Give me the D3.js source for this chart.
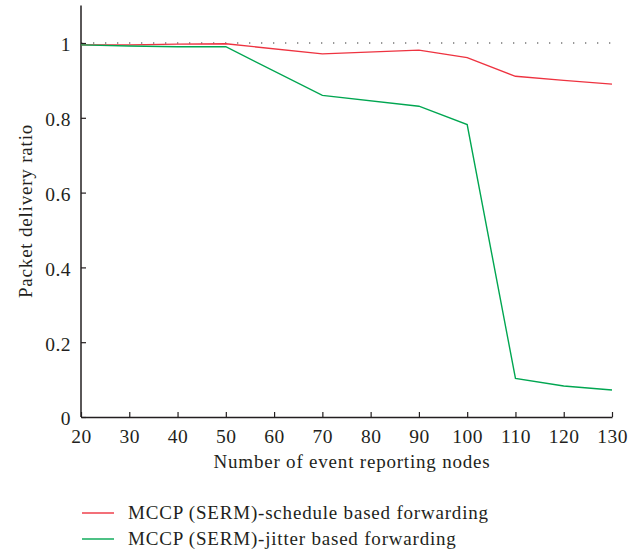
<!DOCTYPE html>
<html>
<head>
<meta charset="utf-8">
<script src="https://cdn.jsdelivr.net/npm/d3@7"></script>
<style>
body { margin: 0; background: #fff; }
text { font-family: "Liberation Serif", "DejaVu Serif", serif; fill: #231f20; }
.title { font-size: 19px; letter-spacing: 0.8px; }
</style>
</head>
<body>
<div id="chart"></div>
<script>
var nodes = [20, 30, 40, 50, 70, 90, 100, 110, 120, 130];
var scheduleRatio = [0.995, 0.995, 0.997, 0.998, 0.971, 0.981, 0.961, 0.911, 0.900, 0.890];
var jitterRatio = [0.995, 0.992, 0.990, 0.990, 0.860, 0.831, 0.782, 0.103, 0.083, 0.072];
var xTicks = [20, 30, 40, 50, 60, 70, 80, 90, 100, 110, 120, 130];
var yTicks = [0, 0.2, 0.4, 0.6, 0.8, 1];
var seriesNames = ["MCCP (SERM)-schedule based forwarding", "MCCP (SERM)-jitter based forwarding"];
var seriesColors = ["#ee3340", "#00a651"];

var width = 640, height = 552;
var svg = d3.select("#chart").append("svg")
    .attr("width", width)
    .attr("height", height);

var x = d3.scaleLinear().domain([20, 130]).range([81, 612]);
var y = d3.scaleLinear().domain([0, 1.1]).range([417, 5.6]);

// reference line at 1
svg.append("line")
    .attr("x1", x(20)).attr("x2", x(130))
    .attr("y1", y(1)).attr("y2", y(1))
    .attr("stroke", "#777")
    .attr("stroke-width", 1.3)
    .attr("stroke-dasharray", "1.3,10.7");

// axes, ticks pointing inward
var xAxis = svg.append("g")
    .attr("transform", "translate(0," + y(0) + ")")
    .call(d3.axisBottom(x).tickValues(xTicks).tickSizeInner(-5).tickSizeOuter(0).tickPadding(12));
var yAxis = svg.append("g")
    .attr("transform", "translate(" + x(20) + ",0)")
    .call(d3.axisLeft(y).tickValues(yTicks).tickSizeInner(-5).tickSizeOuter(0).tickPadding(10)
        .tickFormat(function(d) { return d === 0 || d === 1 ? d : d3.format(".1f")(d); }));

[xAxis, yAxis].forEach(function(g) {
    g.attr("font-size", 19.5).attr("font-family", "Liberation Serif, serif");
    g.selectAll("path").attr("stroke", "#231f20").attr("stroke-width", 1.5);
    g.selectAll("line").attr("stroke", "#231f20").attr("stroke-width", 1.2);
    g.selectAll("text").attr("fill", "#231f20").style("letter-spacing", "0.5px");
});
yAxis.select(".domain").attr("d", "M0," + y(0) + "V" + y(1.1));
yAxis.selectAll(".tick text").attr("dy", "0.4em");

var line = d3.line()
    .x(function(d) { return x(d[0]); })
    .y(function(d) { return y(d[1]); });

[scheduleRatio, jitterRatio].forEach(function(vals, i) {
    svg.append("path")
        .datum(nodes.map(function(n, j) { return [n, vals[j]]; }))
        .attr("d", line)
        .attr("fill", "none")
        .attr("stroke", seriesColors[i])
        .attr("stroke-width", 1.4);
});

// axis titles
svg.append("text")
    .attr("class", "title")
    .attr("x", 352).attr("y", 468)
    .attr("text-anchor", "middle")
    .text("Number of event reporting nodes");
svg.append("text")
    .attr("class", "title")
    .attr("transform", "translate(32,211) rotate(-90)")
    .attr("text-anchor", "middle")
    .text("Packet delivery ratio");

// legend
var legend = svg.append("g");
seriesNames.forEach(function(name, i) {
    var ly = 513 + i * 26;
    legend.append("line")
        .attr("x1", 82).attr("x2", 114)
        .attr("y1", ly).attr("y2", ly)
        .attr("stroke", seriesColors[i])
        .attr("stroke-width", 1.4);
    legend.append("text")
        .attr("class", "title")
        .attr("x", 128).attr("y", ly + 6)
        .text(name);
});
</script>
</body>
</html>
